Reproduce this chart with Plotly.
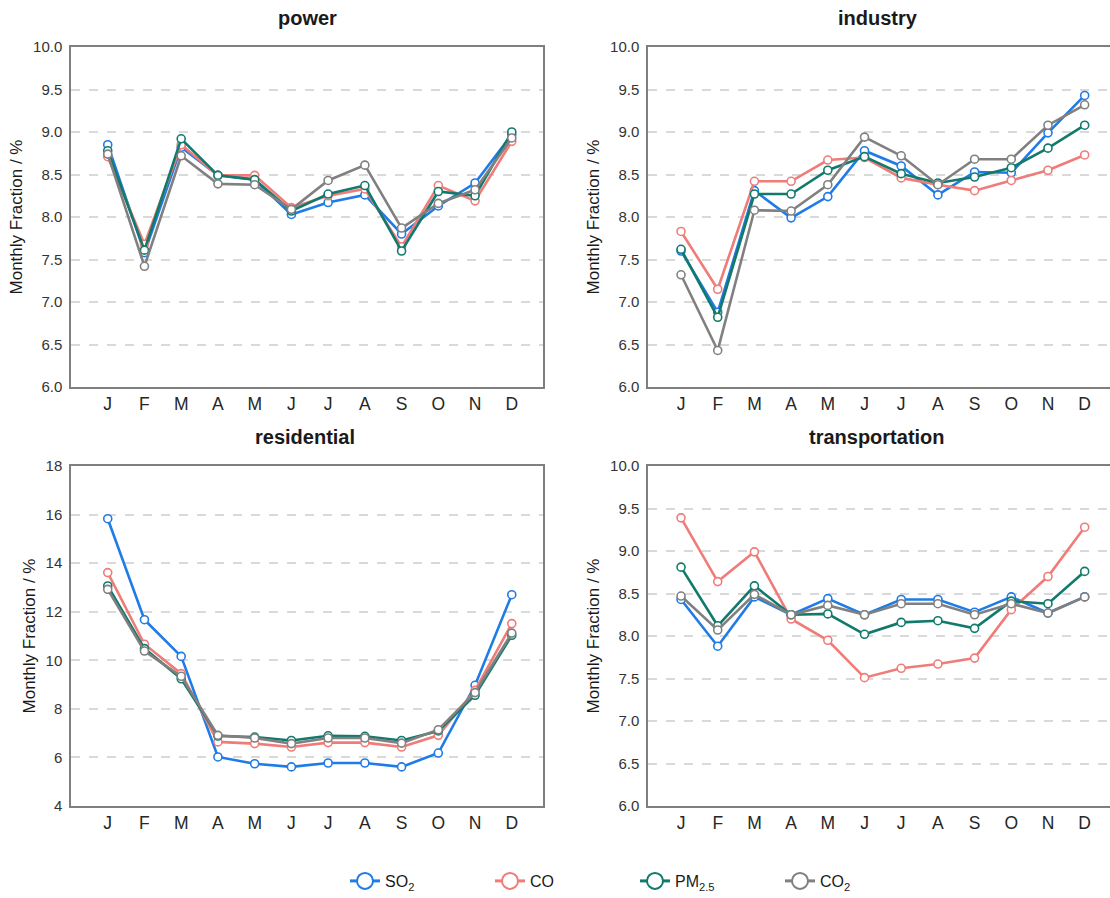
import plotly.graph_objects as go
from plotly.subplots import make_subplots

months = ["J", "F", "M", "A", "M", "J", "J", "A", "S", "O", "N", "D"]
x_idx = list(range(12))

# Monthly fraction (%) by sector and pollutant
power_so2 = [8.85, 7.58, 8.82, 8.49, 8.44, 8.03, 8.17, 8.26, 7.80, 8.13, 8.40, 8.97]
power_co = [8.71, 7.68, 8.85, 8.49, 8.49, 8.11, 8.25, 8.33, 7.65, 8.37, 8.19, 8.89]
power_pm25 = [8.78, 7.61, 8.92, 8.49, 8.44, 8.07, 8.27, 8.37, 7.60, 8.30, 8.25, 9.00]
power_co2 = [8.74, 7.42, 8.72, 8.39, 8.38, 8.09, 8.43, 8.61, 7.87, 8.16, 8.32, 8.93]

industry_so2 = [7.60, 6.88, 8.31, 7.99, 8.24, 8.78, 8.60, 8.26, 8.53, 8.52, 8.99, 9.43]
industry_co = [7.83, 7.15, 8.42, 8.42, 8.67, 8.70, 8.46, 8.38, 8.31, 8.43, 8.55, 8.73]
industry_pm25 = [7.62, 6.82, 8.27, 8.27, 8.55, 8.71, 8.51, 8.40, 8.47, 8.58, 8.81, 9.08]
industry_co2 = [7.32, 6.43, 8.08, 8.07, 8.38, 8.94, 8.72, 8.38, 8.68, 8.68, 9.08, 9.32]

residential_so2 = [15.83, 11.67, 10.16, 6.02, 5.74, 5.61, 5.77, 5.77, 5.61, 6.18, 8.97, 12.70]
residential_co = [13.61, 10.66, 9.45, 6.64, 6.57, 6.43, 6.61, 6.61, 6.43, 6.91, 8.76, 11.51]
residential_pm25 = [13.06, 10.48, 9.24, 6.88, 6.84, 6.70, 6.89, 6.87, 6.70, 7.09, 8.56, 11.03]
residential_co2 = [12.92, 10.38, 9.34, 6.91, 6.80, 6.57, 6.80, 6.80, 6.59, 7.14, 8.67, 11.12]

transport_so2 = [8.43, 7.88, 8.46, 8.25, 8.44, 8.25, 8.43, 8.43, 8.28, 8.46, 8.27, 8.46]
transport_co = [9.39, 8.64, 8.99, 8.20, 7.95, 7.51, 7.62, 7.67, 7.74, 8.31, 8.70, 9.28]
transport_pm25 = [8.81, 8.12, 8.59, 8.25, 8.26, 8.02, 8.16, 8.18, 8.09, 8.41, 8.38, 8.76]
transport_co2 = [8.47, 8.07, 8.49, 8.25, 8.36, 8.25, 8.38, 8.38, 8.25, 8.38, 8.27, 8.46]

series_names = ["SO<sub>2</sub>", "CO", "PM<sub>2.5</sub>", "CO<sub>2</sub>"]
series_colors = ["#1f7be6", "#ef7c78", "#117a6c", "#808080"]

sectors = [
    ("power", [power_so2, power_co, power_pm25, power_co2], 1, 1),
    ("industry", [industry_so2, industry_co, industry_pm25, industry_co2], 1, 2),
    ("residential", [residential_so2, residential_co, residential_pm25, residential_co2], 2, 1),
    ("transportation", [transport_so2, transport_co, transport_pm25, transport_co2], 2, 2),
]

FONT = "Liberation Sans, Arial, sans-serif"
W, H = 1110, 898

fig = make_subplots(rows=2, cols=2)

for name, data, r, c in sectors:
    for vals, color in zip(data, series_colors):
        fig.add_trace(
            go.Scatter(
                x=x_idx, y=vals, mode="lines+markers",
                line=dict(color=color, width=2.6),
                marker=dict(symbol="circle", size=8, color="white",
                            line=dict(color=color, width=1.6)),
                showlegend=False, hoverinfo="skip",
            ),
            row=r, col=c,
        )

# Legend entries with large open markers
for nm, color in zip(series_names, series_colors):
    fig.add_trace(
        go.Scatter(
            x=[None], y=[None], mode="lines+markers", name=nm,
            line=dict(color=color, width=3),
            marker=dict(symbol="circle", size=16, color="white",
                        line=dict(color=color, width=2)),
            showlegend=True,
        ),
        row=1, col=1,
    )

# Panel placement in pixels (left, right, top, bottom)
boxes = {
    (1, 1): (71, 543, 47, 387),
    (1, 2): (648, 1110, 47, 387),
    (2, 1): (71, 543, 466, 806),
    (2, 2): (648, 1110, 466, 806),
}
xranges = {
    (1, 1): [-1.0, 11.85],
    (1, 2): [-0.9, 11.69],
    (2, 1): [-1.0, 11.85],
    (2, 2): [-0.9, 11.69],
}

for name, data, r, c in sectors:
    l, rr, t, b = boxes[(r, c)]
    if name == "residential":
        yr, dt, fmt = [4, 18], 2, "d"
    else:
        yr, dt, fmt = [6, 10], 0.5, ".1f"
    fig.update_xaxes(
        domain=[l / W, rr / W], range=xranges[(r, c)],
        tickmode="array", tickvals=x_idx, ticktext=months,
        showgrid=False, zeroline=False, automargin=False,
        showline=True, linecolor="#7f7f7f", linewidth=1.5, mirror=True,
        ticks="",
        tickfont=dict(family=FONT, size=17.5, color="#262626"),
        row=r, col=c,
    )
    fig.update_yaxes(
        domain=[1 - b / H, 1 - t / H], range=yr, dtick=dt, tick0=yr[0],
        tickformat=fmt, automargin=False,
        showgrid=True, gridcolor="#d9d9d9", griddash="dash", gridwidth=1.5,
        zeroline=False,
        showline=True, linecolor="#7f7f7f", linewidth=1.5, mirror=True,
        ticks="outside", ticklen=4, tickcolor="rgba(0,0,0,0)",
        tickfont=dict(family=FONT, size=15, color="#333333"),
        title=dict(text="Monthly Fraction / %", standoff=6,
                   font=dict(family=FONT, size=17, color="#1a1a1a")),
        row=r, col=c,
    )

# Panel titles, centred over each panel
titles = [("power", 307, 18), ("industry", 878, 18),
          ("residential", 305, 437), ("transportation", 877, 437)]
for txt, px, py in titles:
    fig.add_annotation(
        text=f"<b>{txt}</b>", xref="paper", yref="paper",
        x=px / W, y=1 - py / H, xanchor="center", yanchor="middle",
        showarrow=False, font=dict(family=FONT, size=20, color="#1a1a1a"),
    )

fig.update_layout(
    width=W, height=H,
    margin=dict(l=0, r=0, t=0, b=0, autoexpand=False),
    paper_bgcolor="white", plot_bgcolor="white",
    font=dict(family=FONT),
    legend=dict(
        orientation="h", x=345 / W, y=1 - 881 / H, xanchor="left", yanchor="middle",
        font=dict(family=FONT, size=16, color="#1a1a1a"),
        entrywidth=100, entrywidthmode="pixels", tracegroupgap=0,
        bgcolor="rgba(0,0,0,0)",
    ),
)

fig.write_html("out.html")
